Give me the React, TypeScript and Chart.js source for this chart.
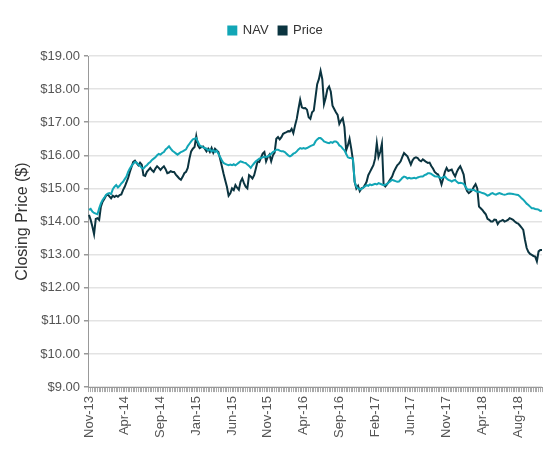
import React, { useEffect, useRef } from "react";
import { Chart, registerables } from "chart.js";

Chart.register(...registerables);

const xTickLabels = ["Nov-13", "Apr-14", "Sep-14", "Jan-15", "Jun-15", "Nov-15", "Apr-16", "Sep-16", "Feb-17", "Jun-17", "Nov-17", "Apr-18", "Aug-18"];
const weeksPerLabel = 21;

const navValues = [
  14.35, 14.38, 14.3, 14.26, 14.24, 14.22, 14.4, 14.55, 14.65, 14.72,
  14.8, 14.84, 14.86, 14.83, 14.98, 15.05, 15.1, 15.03, 15.08, 15.15,
  15.2, 15.28, 15.36, 15.5, 15.6, 15.68, 15.74, 15.8, 15.78, 15.72,
  15.68, 15.62, 15.6, 15.66, 15.7, 15.76, 15.8, 15.86, 15.9, 15.94,
  16.0, 16.04, 16.02, 16.07, 16.1, 16.18, 16.22, 16.27, 16.2, 16.14,
  16.1, 16.06, 16.02, 16.06, 16.1, 16.12, 16.15, 16.18, 16.28, 16.35,
  16.42, 16.48, 16.5, 16.52, 16.4, 16.3, 16.27, 16.24, 16.22, 16.2,
  16.15, 16.18, 16.12, 16.16, 16.1, 16.14, 16.05, 15.95, 15.85, 15.77,
  15.74, 15.72, 15.7, 15.72, 15.7, 15.73, 15.7, 15.74, 15.78, 15.82,
  15.8, 15.78, 15.77, 15.72, 15.68, 15.62, 15.7, 15.76, 15.82, 15.86,
  15.9, 15.92, 15.94, 15.96, 15.95, 15.97, 16.0, 16.05, 16.1, 16.13,
  16.17, 16.17, 16.14, 16.12, 16.12, 16.1, 16.05, 16.0, 15.97, 16.0,
  16.05, 16.07, 16.12, 16.18, 16.22, 16.2, 16.22, 16.2, 16.22, 16.25,
  16.28, 16.3, 16.32, 16.42, 16.48, 16.52, 16.52, 16.48, 16.42, 16.4,
  16.38, 16.37, 16.4, 16.38, 16.42, 16.42, 16.38, 16.3, 16.27, 16.2,
  16.15, 16.05, 15.94, 15.92, 15.92, 15.9, 15.2, 15.05, 15.0, 14.97,
  14.98, 15.02, 15.06, 15.1, 15.08, 15.12, 15.1, 15.12, 15.14, 15.12,
  15.16, 15.14, 15.12, 15.1, 15.11, 15.14, 15.18, 15.22, 15.26, 15.24,
  15.22, 15.2, 15.21, 15.26, 15.32, 15.36, 15.34, 15.3, 15.32, 15.3,
  15.31, 15.32, 15.3, 15.33, 15.35, 15.36, 15.36, 15.4, 15.42, 15.46,
  15.46, 15.44, 15.4, 15.37, 15.36, 15.36, 15.33, 15.31, 15.34, 15.36,
  15.3, 15.26, 15.24, 15.21, 15.24, 15.26, 15.2, 15.16, 15.17, 15.16,
  15.14, 15.06, 14.98, 14.96, 14.97, 14.95, 14.96, 14.92, 14.9, 14.9,
  14.88, 14.86, 14.85, 14.82, 14.78, 14.8, 14.84, 14.86, 14.83, 14.81,
  14.84, 14.86, 14.84, 14.82, 14.81, 14.82, 14.84, 14.85, 14.84, 14.83,
  14.82, 14.81, 14.8, 14.76, 14.7, 14.66, 14.6, 14.54, 14.5, 14.45,
  14.4, 14.4, 14.38, 14.37, 14.36, 14.32, 14.33,
];

const priceValues = [
  14.2, 14.05, 13.85, 13.62, 14.08, 14.1, 14.05, 14.45, 14.6, 14.68,
  14.78, 14.82, 14.76, 14.7, 14.78, 14.74, 14.78, 14.75, 14.8, 14.82,
  14.95, 15.05, 15.18, 15.32, 15.5, 15.65, 15.8, 15.84, 15.76, 15.7,
  15.78, 15.72, 15.4, 15.38, 15.5, 15.56, 15.62, 15.55, 15.5, 15.6,
  15.67, 15.62, 15.56, 15.62, 15.67, 15.58, 15.46, 15.48, 15.52, 15.5,
  15.5, 15.42, 15.36, 15.3, 15.26, 15.35, 15.46, 15.5, 15.62, 15.9,
  16.12, 16.2, 16.25, 16.58, 16.3, 16.22, 16.25, 16.27, 16.2, 16.12,
  16.2, 16.1, 16.22, 16.08, 16.2, 16.15, 16.1, 15.9, 15.68, 15.45,
  15.25, 15.05, 14.78, 14.85, 15.0, 14.95, 15.1, 15.02, 14.96, 15.2,
  15.3, 15.16, 15.05, 15.0, 15.4, 15.36, 15.3, 15.4, 15.6, 15.82,
  15.8, 15.92, 16.05, 16.1, 15.82, 15.95, 16.02, 15.82, 16.0, 16.08,
  16.5, 16.55, 16.48, 16.55, 16.65, 16.68, 16.7, 16.73, 16.72, 16.8,
  16.67, 16.9, 17.1, 17.4, 17.68, 17.45, 17.42, 17.43, 17.38, 17.15,
  17.1, 17.3, 17.35, 17.75, 18.15, 18.3, 18.55, 18.3, 17.55, 17.74,
  18.0, 18.08, 17.92, 17.5, 17.4, 17.3, 17.22, 16.95, 17.05, 17.12,
  16.85, 16.15, 16.3, 16.5, 16.2, 15.85, 15.2, 15.0, 15.08, 14.92,
  15.0, 15.02, 15.1, 15.2, 15.4, 15.5, 15.6, 15.7, 15.9, 16.37,
  15.95, 16.1, 16.35, 15.12, 15.06, 15.12, 15.2, 15.28, 15.36, 15.5,
  15.6, 15.7, 15.75, 15.82, 15.95, 16.07, 16.02, 15.97, 15.85, 15.72,
  15.85, 15.92, 15.94, 15.92, 15.85, 15.82, 15.88, 15.84, 15.8, 15.77,
  15.78, 15.68, 15.6, 15.5, 15.45, 15.42, 15.3, 15.12, 15.3, 15.5,
  15.62, 15.53, 15.55, 15.57, 15.45, 15.36, 15.5, 15.6, 15.67, 15.55,
  15.42, 15.06, 14.92, 14.86, 14.9, 14.95, 15.05, 15.13, 15.0, 14.45,
  14.4, 14.35, 14.28, 14.22, 14.08, 14.05, 14.0, 14.0, 14.06, 14.05,
  13.92, 14.0, 14.02, 14.05, 14.0, 14.02, 14.05, 14.1, 14.08, 14.05,
  14.0, 13.96, 13.94, 13.88, 13.82, 13.75, 13.45, 13.2, 13.08, 13.02,
  12.99, 12.96, 12.94, 12.8, 13.1, 13.14, 13.14,
];

const yMin = 9;
const yMax = 19;

const categories: string[] = navValues.map((_, i) =>
  i % weeksPerLabel === 0 && xTickLabels[i / weeksPerLabel] ? xTickLabels[i / weeksPerLabel] : ""
);

const legendSpacer = {
  id: "legendSpacer",
  beforeInit(chart: any) {
    const legend = chart.legend;
    if (!legend) return;
    const origFit = legend.fit;
    legend.fit = function () {
      origFit.bind(legend)();
      this.height += 9;
    };
  },
};

export default function App() {
  const canvasRef = useRef<HTMLCanvasElement | null>(null);

  useEffect(() => {
    if (!canvasRef.current) return;
    const font = "'Liberation Sans', Arial, sans-serif";
    const chart = new Chart(canvasRef.current, {
      type: "line",
      data: {
        labels: categories,
        datasets: [
          {
            label: "NAV",
            data: navValues,
            borderColor: "#12A6B6",
            backgroundColor: "#12A6B6",
            borderWidth: 2,
            pointRadius: 0,
            tension: 0,
            fill: false,
          },
          {
            label: "Price",
            data: priceValues,
            borderColor: "#0B3440",
            backgroundColor: "#0B3440",
            borderWidth: 2,
            pointRadius: 0,
            tension: 0,
            fill: false,
          },
        ],
      },
      plugins: [legendSpacer],
      options: {
        animation: false,
        responsive: true,
        maintainAspectRatio: false,
        layout: { padding: { top: 6, right: 10, left: 1, bottom: 0 } },
        plugins: {
          legend: {
            position: "top",
            labels: {
              boxWidth: 8,
              boxHeight: 8,
              padding: 10,
              color: "#333",
              font: { family: font, size: 13 },
            },
          },
          tooltip: { enabled: false },
        },
        scales: {
          x: {
            afterFit: (scale: any) => {
              scale.paddingRight = 0;
              scale.paddingLeft = 0;
            },
            ticks: {
              autoSkip: false,
              maxRotation: 90,
              minRotation: 90,
              color: "#555",
              font: { family: font, size: 13 },
              padding: 4,
            },
            grid: {
              drawOnChartArea: false,
              color: "#aaa",
              tickLength: 5,
            },
            border: { color: "#999" },
          },
          y: {
            min: yMin,
            max: yMax,
            ticks: {
              stepSize: 1,
              color: "#555",
              padding: 4,
              font: { family: font, size: 13 },
              callback: (v: any) => "$" + Number(v).toFixed(2),
            },
            grid: {
              color: "#e3e3e3",
              lineWidth: 1.5,
              tickColor: "#999",
              tickLength: 5,
            },
            border: { color: "#999" },
            title: {
              display: true,
              text: "Closing Price ($)",
              color: "#333",
              font: { family: font, size: 16 },
              padding: 4,
            },
          },
        },
      },
    });
    return () => chart.destroy();
  }, []);

  return (
    <div style={{ position: "relative", width: 544, height: 434 }}>
      <canvas ref={canvasRef} />
    </div>
  );
}
